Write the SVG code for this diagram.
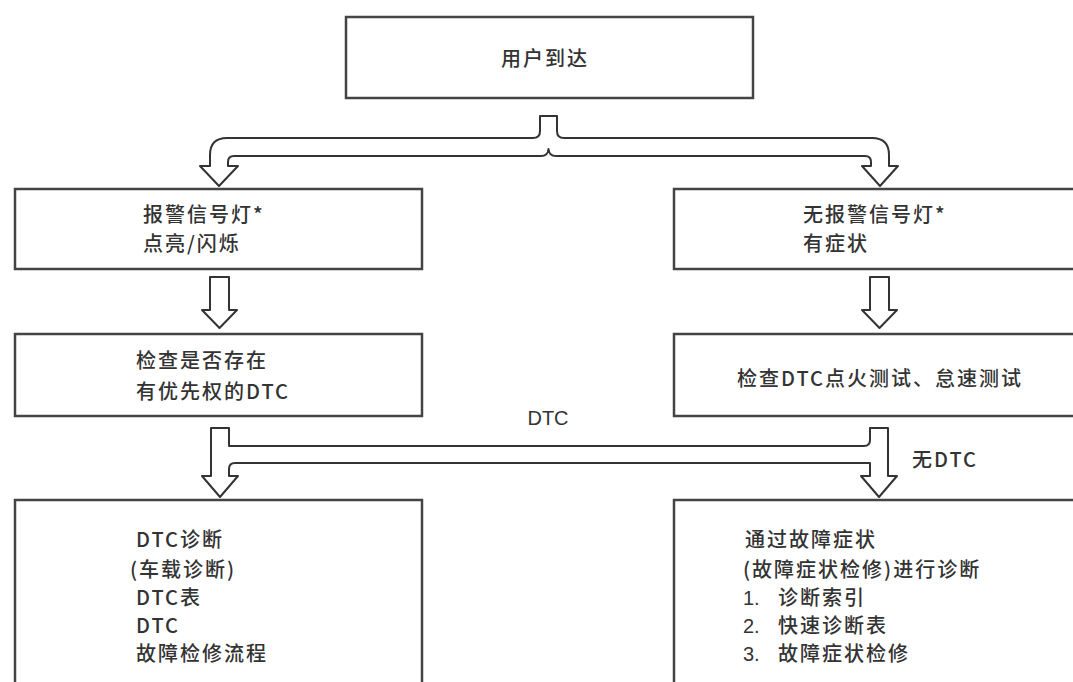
<svg xmlns="http://www.w3.org/2000/svg" width="1073" height="682" viewBox="0 0 1073 682">
<style>
.box{fill:#fff;stroke:#444;stroke-width:2.5}
.arr{fill:#fff;stroke:#333;stroke-width:2;stroke-linejoin:round}
.t{font-family:"Noto Sans CJK SC","Noto Sans",sans-serif;font-size:20px;font-weight:500;fill:#333;letter-spacing:2px}
.l{font-family:"Liberation Sans",Arial,sans-serif;font-size:20px;fill:#333}
</style>
<rect width="1073" height="682" fill="#fff"/>
<g id="connectors">
<path class="arr" d="M540,116 H557 V131 Q557,138 564,138 H872 Q889,138 889,155 V166 H898 L880,186 L862,166 H871 V162 Q871,156 865,156 H556 Q549,156 548.5,149 Q548,156 541,156 H234 Q228,156 228,162 V166 H238 L219,186 L200,166 H210 V155 Q210,138 227,138 H533 Q540,138 540,131 Z"/>
<path class="arr" d="M210,277 H229 V310 H237 L219.5,328 L202,310 H210 Z"/>
<path class="arr" d="M870,277 H889 V310 H897 L879.5,328 L862,310 H870 Z"/>
<path class="arr" d="M211,428 H229 V446 H864 Q870,446 870,440 V428 H888 V476 H897 L879,497 L861,476 H870 V463 H235 Q229,463 229,469 V476 H238 L220,497 L202,476 H211 Z"/>
<text class="l" x="548" y="425" text-anchor="middle">DTC</text>
<text class="t" x="912" y="467">无DTC</text>
</g>
<g id="n1"><rect class="box" x="346" y="17" width="407" height="81"/><text class="t" x="545" y="66" text-anchor="middle">用户到达</text></g>
<g id="n2"><rect class="box" x="15" y="189" width="407" height="80"/><text class="t" x="143" y="222">报警信号灯*</text><text class="t" x="143" y="251">点亮/闪烁</text></g>
<g id="n3"><rect class="box" x="674" y="189" width="410" height="80"/><text class="t" x="803" y="222">无报警信号灯*</text><text class="t" x="803" y="251">有症状</text></g>
<g id="n4"><rect class="box" x="15" y="334" width="407" height="82"/><text class="t" x="136" y="368">检查是否存在</text><text class="t" x="136" y="399">有优先权的DTC</text></g>
<g id="n5"><rect class="box" x="674" y="334" width="410" height="82"/><text class="t" x="737" y="386">检查DTC点火测试、怠速测试</text></g>
<g id="n6"><rect class="box" x="15" y="500" width="407" height="200"/>
<text class="t" x="136" y="547">DTC诊断</text><text class="t" x="130" y="577">(车载诊断)</text><text class="t" x="136" y="605">DTC表</text><text class="t" x="136" y="633">DTC</text><text class="t" x="136" y="661">故障检修流程</text></g>
<g id="n7"><rect class="box" x="674" y="500" width="410" height="200"/>
<text class="t" x="745" y="547">通过故障症状</text><text class="t" x="743" y="577">(故障症状检修)进行诊断</text>
<text class="l" x="743" y="605">1.</text><text class="t" x="778" y="605">诊断索引</text>
<text class="l" x="743" y="633">2.</text><text class="t" x="778" y="633">快速诊断表</text>
<text class="l" x="743" y="661">3.</text><text class="t" x="778" y="661">故障症状检修</text></g>
</svg>
